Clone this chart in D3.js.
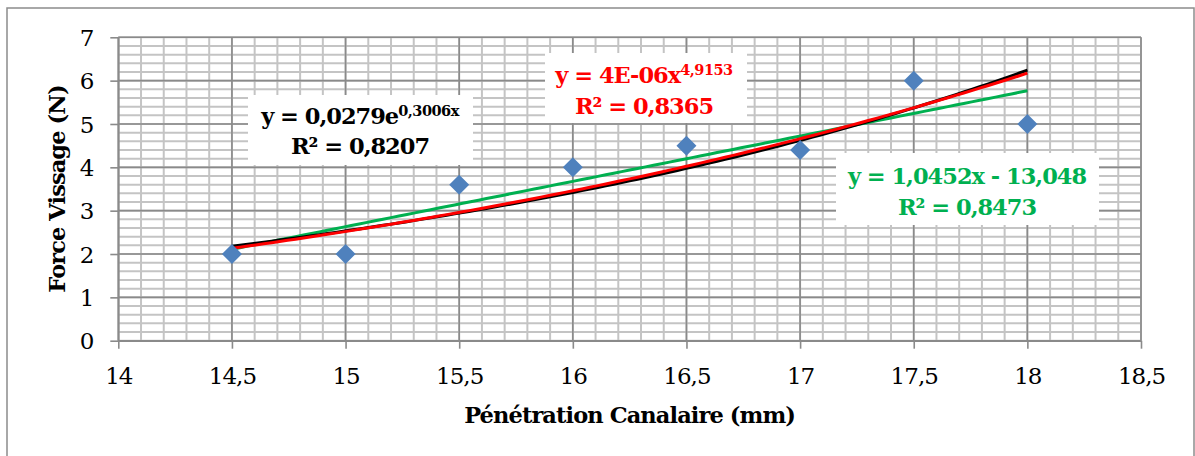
<!DOCTYPE html>
<html><head><meta charset="utf-8">
<script src="https://cdn.jsdelivr.net/npm/d3@7"></script>
<style>body{margin:0;background:#fff}svg{display:block}</style>
</head><body><svg id="c" width="1195" height="456"></svg>
<script>
// ---- data ----
const penetration = [14.5, 15, 15.5, 16, 16.5, 17, 17.5, 18];
const force = [2, 2, 3.6, 4, 4.5, 4.4, 6, 5];
const xTickValues = [14, 14.5, 15, 15.5, 16, 16.5, 17, 17.5, 18, 18.5];
const yTickValues = [0, 1, 2, 3, 4, 5, 6, 7];
const xTitle = "Pénétration Canalaire (mm)";
const yTitle = "Force Vissage (N)";
const expLabel = ["y = 0,0279e", "0,3006x", "R² = 0,8207"];
const powLabel = ["y = 4E-06x", "4,9153", "R² = 0,8365"];
const linLabel = ["y = 1,0452x - 13,048", "", "R² = 0,8473"];

const svg = d3.select("#c");
const x = d3.scaleLinear([14, 18.5], [118.3, 1141]);
const y = d3.scaleLinear([0, 7], [340.7, 37.3]);
const fmt = d => String(d).replace(".", ",");

// outer chart border
svg.append("rect").attr("x", 7).attr("y", 8).attr("width", 1187).attr("height", 470)
  .attr("fill", "#fff").attr("stroke", "#8c8c8c").attr("stroke-width", 1.5);

// grid
const g = svg.append("g");
const minorX = d3.range(0, 46).map(i => 14 + i * 0.1);
const minorY = d3.range(0, 36).map(i => i * 0.2);
g.selectAll(".mx").data(minorX).join("line")
  .attr("x1", d => x(d)).attr("x2", d => x(d)).attr("y1", y(0)).attr("y2", y(7))
  .attr("stroke", "#c4c4c4").attr("stroke-width", 2);
g.selectAll(".my").data(minorY).join("line")
  .attr("x1", x(14)).attr("x2", x(18.5)).attr("y1", d => y(d)).attr("y2", d => y(d))
  .attr("stroke", "#c4c4c4").attr("stroke-width", 2);
g.selectAll(".Mx").data(xTickValues).join("line")
  .attr("x1", d => x(d)).attr("x2", d => x(d)).attr("y1", y(0)).attr("y2", y(7))
  .attr("stroke", "#8a8a8a").attr("stroke-width", 1.6);
g.selectAll(".My").data(yTickValues).join("line")
  .attr("x1", x(14)).attr("x2", x(18.5)).attr("y1", d => y(d)).attr("y2", d => y(d))
  .attr("stroke", "#8a8a8a").attr("stroke-width", 1.6);

// axes
const xAxis = svg.append("g").attr("transform", `translate(0,${y(0)})`)
  .call(d3.axisBottom(x).tickValues(xTickValues).tickFormat(fmt).tickSize(8).tickSizeOuter(0));
const yAxis = svg.append("g").attr("transform", `translate(${x(14)},0)`)
  .call(d3.axisLeft(y).tickValues(yTickValues).tickFormat(fmt).tickSize(8).tickSizeOuter(0));
[xAxis, yAxis].forEach(a => {
  a.select(".domain").attr("stroke", "#8a8a8a").attr("stroke-width", 1.6);
  a.selectAll(".tick line").attr("stroke", "#8a8a8a").attr("stroke-width", 1.6);
  a.selectAll("text").attr("fill", "#000").style("font-family", "DejaVu Serif")
    .style("font-size", "23px").style("letter-spacing", "-1px");
});
xAxis.selectAll("text").attr("y", 0).attr("dy", 0).attr("transform", "translate(0,43.5)");
yAxis.selectAll("text").attr("x", -25).attr("dy", "0.36em");

// trend fits (least squares on data)
const n = penetration.length;
const mean = a => d3.sum(a) / a.length;
function linfit(xs, ys) {
  const mx = mean(xs), my = mean(ys);
  const b = d3.sum(xs.map((v, i) => (v - mx) * (ys[i] - my))) / d3.sum(xs.map(v => (v - mx) ** 2));
  return { a: my - b * mx, b };
}
const lin = linfit(penetration, force);
const le = linfit(penetration, force.map(Math.log));
const lp = linfit(penetration.map(Math.log), force.map(Math.log));
const fLin = t => lin.a + lin.b * t;
const fExp = t => Math.exp(le.a) * Math.exp(le.b * t);
const fPow = t => Math.exp(lp.a) * Math.pow(t, lp.b);
const xs = d3.range(0, 101).map(i => penetration[0] + (penetration[n - 1] - penetration[0]) * i / 100);
const line = d3.line().x(d => x(d[0])).y(d => y(d[1]));
[[fLin, "#00b050"], [fExp, "#000000"], [fPow, "#ff0000"]].forEach(([f, c]) => {
  svg.append("path").attr("d", line(xs.map(t => [t, f(t)])))
    .attr("fill", "none").attr("stroke", c).attr("stroke-width", 3);
});

// markers
svg.selectAll(".pt").data(penetration).join("path")
  .attr("d", d3.symbol(d3.symbolSquare, 200))
  .attr("transform", (d, i) => `translate(${x(d)},${y(force[i])}) rotate(45)`)
  .attr("fill", "#4f81bd");

// equation labels
const eqFont = sel => sel.style("font-family", "DejaVu Serif").style("font-weight", "bold")
  .style("font-size", "22.5px").style("letter-spacing", "-1px");
function eqBox(lbl, color, box, cx, b1, b2) {
  svg.append("rect").attr("x", box[0]).attr("y", box[1]).attr("width", box[2]).attr("height", box[3]).attr("fill", "#fff");
  const t1 = svg.append("text").attr("x", cx).attr("y", b1).attr("text-anchor", "middle")
    .attr("fill", color).call(eqFont);
  t1.append("tspan").text(lbl[0]);
  if (lbl[1]) t1.append("tspan").attr("dy", -8).style("font-size", "14.5px").style("letter-spacing", "-0.5px").text(lbl[1]);
  svg.append("text").attr("x", cx).attr("y", b2).attr("text-anchor", "middle")
    .attr("fill", color).call(eqFont).text(lbl[2]);
}
eqBox(expLabel, "#000000", [248, 95, 225, 70], 360, 124, 154);
eqBox(powLabel, "#ff0000", [545, 53, 202, 70], 644, 83, 114);
eqBox(linLabel, "#00b050", [836, 153, 263, 72], 967, 184, 215);

// axis titles
const titleFont = sel => sel.style("font-family", "DejaVu Serif").style("font-weight", "bold")
  .style("font-size", "22.5px").style("letter-spacing", "-0.9px");
svg.append("text").attr("x", (x(14) + x(18.5)) / 2).attr("y", 423).attr("text-anchor", "middle")
  .call(titleFont).text(xTitle);
svg.append("text").attr("transform", `translate(65,${(y(0) + y(7)) / 2}) rotate(-90)`).attr("text-anchor", "middle")
  .call(titleFont).text(yTitle);
</script></body></html>
